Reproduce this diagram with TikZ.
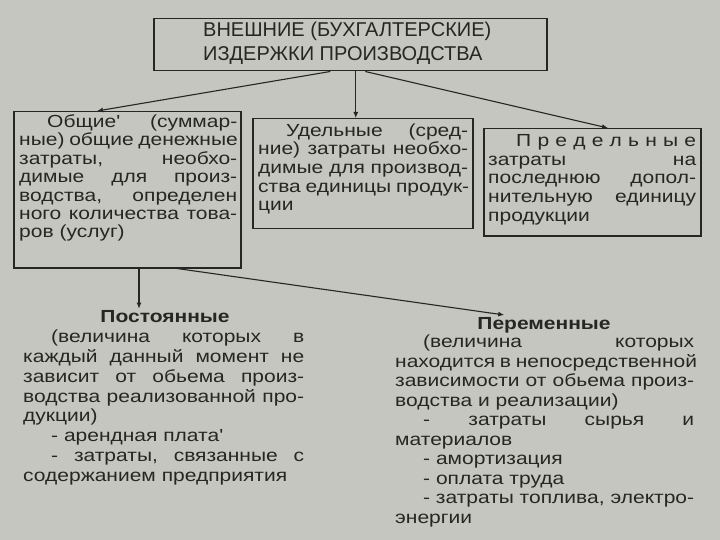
\documentclass[tikz,border=0pt]{standalone}
\usepackage{fontspec}
\setmainfont{Liberation Sans}
\newfontfamily\bodyfont{Liberation Sans}[FakeStretch=1.2]
\usetikzlibrary{arrows.meta}
\definecolor{bg}{RGB}{197,198,191}
\definecolor{ink}{RGB}{38,38,36}
\newcommand\lineJ[1]{\hbox to \linewidth{\spaceskip=0.27em plus 1fil\relax #1}}
\newcommand\lineL[1]{\hbox to \linewidth{#1\hfil}}
\newcommand\ind{\kern28pt\relax}
\tikzset{
  frame/.style={draw=ink, line width=1.5pt, fill=bg, anchor=north west, inner sep=0pt},
  boxtxt/.style={anchor=north west, inner sep=0pt, align=left, text=ink,
    font={\bodyfont\fontsize{17.5pt}{18.6pt}\selectfont}},
  bodytxt/.style={anchor=north west, inner sep=0pt, align=left, text=ink,
    font={\bodyfont\fontsize{17.5pt}{19.75pt}\selectfont}},
  headtxt/.style={anchor=north west, inner sep=0pt, align=left, text=ink,
    font={\fontsize{20pt}{23.5pt}\selectfont}},
  titletxt/.style={inner sep=2pt, text=ink, font={\bodyfont\bfseries\fontsize{17.5pt}{19.6pt}\selectfont}},
  conn/.style={draw=ink, line width=1.1pt},
  arr/.style={conn, -{Latex[length=6pt,width=5pt]}}
}
\begin{document}
\begin{tikzpicture}[x=1pt,y=-1pt]
\fill[bg] (0,0) rectangle (720,540);
\useasboundingbox (0,0) rectangle (720,540);

% top box
\node[frame, minimum width=393pt, minimum height=52pt] (T) at (153,18) {};
\node[headtxt] (Tt) at ([xshift=50pt,yshift=-4pt]T.north west)
  {ВНЕШНИЕ (БУХГАЛТЕРСКИЕ)\\ИЗДЕРЖКИ ПРОИЗВОДСТВА};

% left box
\node[frame, minimum width=227pt, minimum height=156pt] (L) at (13,111) {};
\node[boxtxt, text width=218pt, font={\bodyfont\fontsize{17.5pt}{18.4pt}\selectfont}] (Lt)
  at ([xshift=6pt,yshift=-3.5pt]L.north west) {%
\lineJ{\ind Общие' (суммар-}
\lineJ{ные) общие денежные}
\lineJ{затраты, необхо-}
\lineJ{димые для произ-}
\lineJ{водства, определен}
\lineJ{ного количества това-}
\lineL{ров (услуг)}};

% middle box
\node[frame, minimum width=220pt, minimum height=110pt] (M) at (252,118) {};
\node[boxtxt, text width=210pt] (Mt) at ([xshift=6pt,yshift=-5.5pt]M.north west) {%
\lineJ{\ind Удельные (сред-}
\lineJ{ние) затраты необхо-}
\lineJ{димые для производ-}
\lineJ{ства единицы продук-}
\lineL{ции}};

% right box
\node[frame, minimum width=217pt, minimum height=107pt] (R) at (483,128) {};
\node[boxtxt, text width=208pt] (Rt) at ([xshift=5pt,yshift=-6.5pt]R.north west) {%
\lineJ{\ind П\hfill р\hfill е\hfill д\hfill е\hfill л\hfill ь\hfill н\hfill ы\hfill е}
\lineJ{затраты\hfill на}
\lineJ{последнюю допол-}
\lineJ{нительную единицу}
\lineL{продукции}};

% lower titles
\node[titletxt] (P) at (165,317) {Постоянные};
\node[titletxt] (V) at (544,325) {Переменные};

\node[bodytxt, text width=281pt] (Pt) at (23,330) {%
\lineJ{\ind (величина которых в}
\lineJ{каждый данный момент не}
\lineJ{зависит от обьема произ-}
\lineJ{водства реализованной про-}
\lineL{дукции)}
\lineL{\ind - арендная плата'}
\hbox to \linewidth{\ind -\hfil затраты,\hfil связанные\hfil с}
\lineL{содержанием предприятия}};

\node[bodytxt, text width=299pt, font={\bodyfont\fontsize{17.5pt}{19.5pt}\selectfont}] (Vt) at (395,335) {%
\lineJ{\ind (величина которых}
\lineJ{находится в непосредственной}
\lineJ{зависимости от обьема произ-}
\lineL{водства и реализации)}
\hbox to \linewidth{\ind -\hfil затраты\hfil сырья\hfil и}
\lineL{материалов}
\lineL{\ind - амортизация}
\lineL{\ind - оплата труда}
\lineJ{\ind - затраты топлива, электро-}
\lineL{энергии}};

% connectors
\coordinate (t1) at ([xshift=-20pt]T.south);
\coordinate (t2) at ([xshift=5.5pt]T.south);
\coordinate (t3) at ([xshift=15pt]T.south);
\draw[arr] (t1) -- ([xshift=84pt]L.north west);
\draw[arr] (t2) -- (t2 |- M.north);
\draw[arr] (t3) -- ([xshift=125pt]R.north west);
\coordinate (l1) at ([xshift=126pt]L.south west);
\coordinate (l2) at ([xshift=164pt]L.south west);
\draw[arr] (l1) -- (l1 |- P.north);
\draw[arr] (l2) -- ([xshift=29pt]V.north west);
\end{tikzpicture}
\end{document}
